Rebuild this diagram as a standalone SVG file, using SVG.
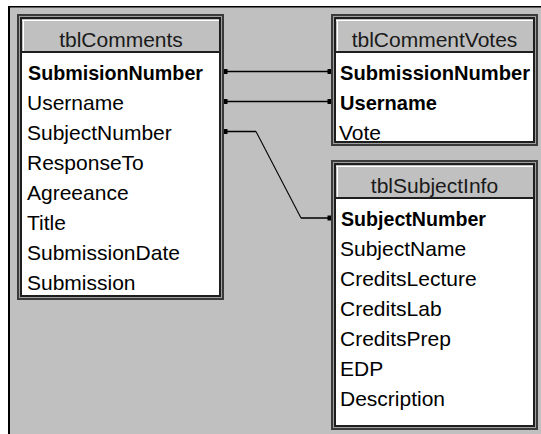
<svg xmlns="http://www.w3.org/2000/svg" width="541" height="434" viewBox="0 0 541 434">
<style>
.o{fill:#3a3a3a}
.g{fill:#a0a0a0}
.i{fill:#1e1e1e}
.w{fill:#ffffff}
.tb{fill:#c0c0c0}
.hl{fill:#ffffff}
text{font-family:"Liberation Sans",Arial,sans-serif;font-size:21px;fill:#000}
.b{font-weight:bold}
.t{text-anchor:middle;fill:#1a1a1a}
.ln{stroke:#000;stroke-width:1.5;fill:none}
.dg{stroke:#000;stroke-width:1.1;fill:none}
.dot{fill:#000}
</style>
<rect x="0" y="0" width="541" height="434" fill="#ffffff"/>
<rect x="8" y="6" width="533" height="428" fill="#000"/>
<rect x="10" y="7.5" width="531" height="426.5" fill="#c0c0c0"/>

<g id="tblComments">
<rect class="o" x="17" y="14" width="207" height="286"/>
<rect class="g" x="19" y="16" width="203" height="282"/>
<rect class="i" x="20" y="17" width="201" height="280"/>
<rect class="w" x="22" y="19" width="197" height="276"/>
<rect class="tb" x="22" y="19" width="197" height="32"/>
<rect class="hl" x="22" y="20" width="197" height="1"/>
<rect class="hl" x="23" y="20" width="1" height="31"/>
<rect class="i" x="22" y="51" width="197" height="2"/>
<text class="t" x="121" y="47">tblComments</text>
<text class="b" x="28" y="80" textLength="175" lengthAdjust="spacingAndGlyphs">SubmisionNumber</text>
<text x="27" y="110">Username</text>
<text x="27" y="140">SubjectNumber</text>
<text x="27" y="170">ResponseTo</text>
<text x="27" y="200">Agreeance</text>
<text x="27" y="230">Title</text>
<text x="27" y="260">SubmissionDate</text>
<text x="27" y="290">Submission</text>
</g>

<g id="tblCommentVotes">
<rect class="o" x="331" y="14" width="207" height="132"/>
<rect class="g" x="333" y="16" width="203" height="128"/>
<rect class="i" x="334" y="17" width="201" height="126"/>
<rect class="w" x="336" y="19" width="197" height="122"/>
<rect class="tb" x="336" y="19" width="197" height="32"/>
<rect class="hl" x="336" y="20" width="197" height="1"/>
<rect class="hl" x="337" y="20" width="1" height="31"/>
<rect class="i" x="336" y="51" width="197" height="2"/>
<text class="t" x="434.5" y="47">tblCommentVotes</text>
<text class="b" x="340" y="80" textLength="190" lengthAdjust="spacingAndGlyphs">SubmissionNumber</text>
<text class="b" x="340" y="110" textLength="97" lengthAdjust="spacingAndGlyphs">Username</text>
<text x="339" y="140">Vote</text>
</g>

<g id="tblSubjectInfo">
<rect class="o" x="331" y="160" width="207" height="270"/>
<rect class="g" x="333" y="162" width="203" height="266"/>
<rect class="i" x="334" y="163" width="201" height="264"/>
<rect class="w" x="336" y="165" width="197" height="260"/>
<rect class="tb" x="336" y="165" width="197" height="32"/>
<rect class="hl" x="336" y="166" width="197" height="1"/>
<rect class="hl" x="337" y="166" width="1" height="31"/>
<rect class="i" x="336" y="197" width="197" height="2"/>
<text class="t" x="434.5" y="193">tblSubjectInfo</text>
<text class="b" x="341" y="226" textLength="145" lengthAdjust="spacingAndGlyphs">SubjectNumber</text>
<text x="340" y="256">SubjectName</text>
<text x="340" y="286">CreditsLecture</text>
<text x="340" y="316">CreditsLab</text>
<text x="340" y="346">CreditsPrep</text>
<text x="340" y="376">EDP</text>
<text x="340" y="406">Description</text>
</g>

<g id="connectors">
<path class="ln" d="M224 71.5 H331"/>
<path class="ln" d="M224 101.5 H331"/>
<path class="ln" d="M224 131.5 H256"/>
<path class="dg" d="M256 131.5 L301 218"/>
<path class="ln" d="M301 218 H331"/>
<rect class="dot" x="224" y="69" width="3.5" height="5"/>
<rect class="dot" x="327.5" y="69" width="3.5" height="5"/>
<rect class="dot" x="224" y="99" width="3.5" height="5"/>
<rect class="dot" x="327.5" y="99" width="3.5" height="5"/>
<rect class="dot" x="224" y="129" width="3.5" height="5"/>
<rect class="dot" x="327.5" y="215.5" width="3.5" height="5"/>
</g>
</svg>
